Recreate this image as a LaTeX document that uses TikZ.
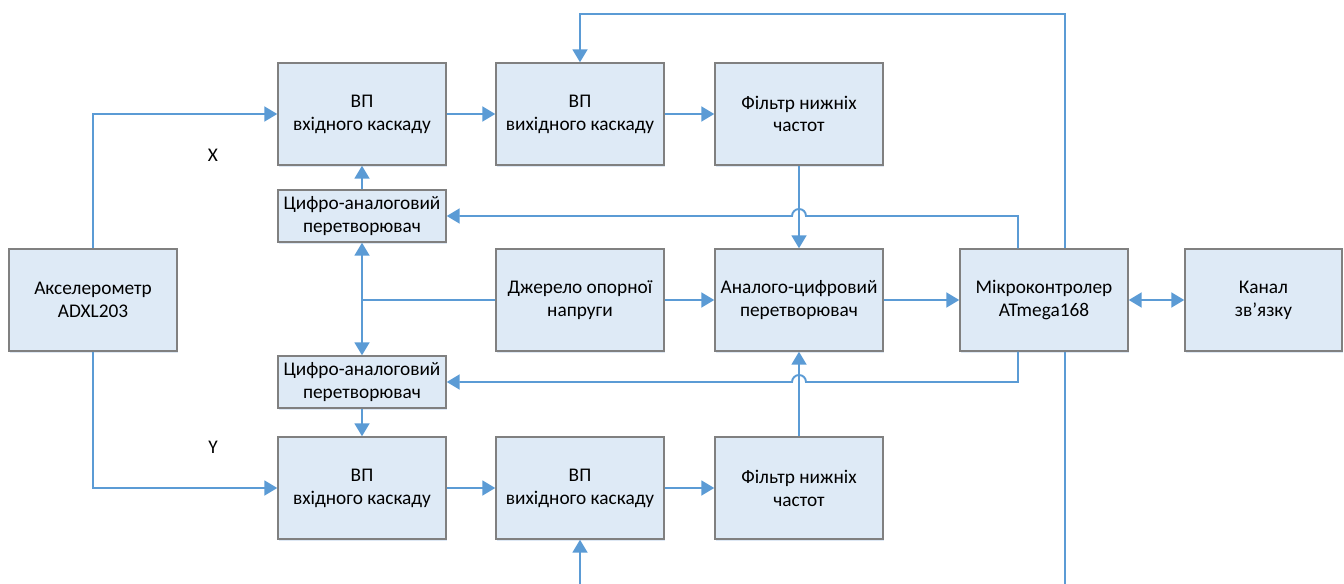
\documentclass[tikz,border=0pt]{standalone}
\usepackage{fontspec}
\setmainfont{Carlito}
\usetikzlibrary{arrows.meta,shadows}
\definecolor{bdfill}{RGB}{222,234,246}
\definecolor{bdline}{RGB}{91,155,213}
\definecolor{bdedge}{RGB}{128,128,128}
\definecolor{bdshade}{RGB}{200,216,236}

\begin{document}
\begin{tikzpicture}[x=0.02cm,y=-0.02cm,line width=1.1pt,>={Triangle[length=0.26cm,width=0.3cm]},
  blk/.style={draw=bdedge,line width=0.85pt,fill=bdfill,align=center,inner sep=0pt,
    font=\fontsize{11}{13}\selectfont,minimum width=3.36cm,minimum height=2.04cm,
    drop shadow={shadow xshift=0.4pt,shadow yshift=-1.4pt,fill=bdshade,opacity=0.6}},
  dac/.style={blk,minimum height=1.04cm},
  wire/.style={bdline,line width=1.1pt}]
  \useasboundingbox (0,0) rectangle (1344,584);
  \node[blk] (acc) at (93,300) {Акселерометр\\ADXL203};
  \node[blk] (vpx1) at (362,114) {ВП\\вхідного каскаду};
  \node[blk] (vpx2) at (580,114) {ВП\\вихідного каскаду};
  \node[blk] (fx) at (799,114) {Фільтр нижніх\\частот};
  \node[dac] (dacx) at (362,216) {Цифро-аналоговий\\перетворювач};
  \node[blk] (ref) at (580,300) {Джерело опорної\\напруги};
  \node[blk] (adc) at (799,300) {Аналого-цифровий\\перетворювач};
  \node[blk] (mcu) at (1044,300) {Мікроконтролер\\ATmega168};
  \node[blk,minimum width=3.14cm] (chan) at (1263.5,300) {Канал\\зв’язку};
  \node[dac] (dacy) at (362,382) {Цифро-аналоговий\\перетворювач};
  \node[blk] (vpy1) at (362,488) {ВП\\вхідного каскаду};
  \node[blk] (vpy2) at (580,488) {ВП\\вихідного каскаду};
  \node[blk] (fy) at (799,488) {Фільтр нижніх\\частот};
  \node[font=\fontsize{11}{13}\selectfont] (lx) at (213,155) {X};
  \node[font=\fontsize{11}{13}\selectfont] (ly) at (213,447) {Y};

  \coordinate (top) at (0,14);
  \coordinate (bot) at (0,584);
  \coordinate (br) at (362,300);
  \coordinate (hx) at (fx.south |- dacx.east);
  \coordinate (hy) at (fy.north |- dacy.east);
  \coordinate (mx1) at ([xshift=0.42cm]mcu.north);
  \coordinate (mx2) at ([xshift=0.42cm]mcu.south);

  \draw[wire,->] (acc.north) |- (vpx1.west);
  \draw[wire,->] (acc.south) |- (vpy1.west);
  \draw[wire,->] (vpx1.east) -- (vpx2.west);
  \draw[wire,->] (vpx2.east) -- (fx.west);
  \draw[wire,->] (vpy1.east) -- (vpy2.west);
  \draw[wire,->] (vpy2.east) -- (fy.west);
  \draw[wire,->] (dacx.north) -- (vpx1.south);
  \draw[wire,->] (dacy.south) -- (vpy1.north);
  \draw[wire,->] (fx.south) -- (adc.north);
  \draw[wire,->] (fy.north) -- (adc.south);
  \draw[wire] (ref.west) -- (br);
  \draw[wire,->] (br) -- (dacx.south);
  \draw[wire,->] (br) -- (dacy.north);
  \draw[wire,->] (ref.east) -- (adc.west);
  \draw[wire,->] (adc.east) -- (mcu.west);
  \draw[wire,<->] (mcu.east) -- (chan.west);
  \draw[wire,->] ([xshift=-0.52cm]mcu.north) |- ([xshift=0.14cm]hx)
    arc[start angle=0,end angle=180,radius=0.14cm] -- (dacx.east);
  \draw[wire,->] ([xshift=-0.52cm]mcu.south) |- ([xshift=0.14cm]hy)
    arc[start angle=0,end angle=180,radius=0.14cm] -- (dacy.east);
  \draw[wire,->] (mx1) -- (mx1 |- top) -| (vpx2.north);
  \draw[wire] (mx2) -- (mx2 |- bot);
  \draw[wire,->] (vpy2.south |- bot) -- (vpy2.south);
\end{tikzpicture}
\end{document}
